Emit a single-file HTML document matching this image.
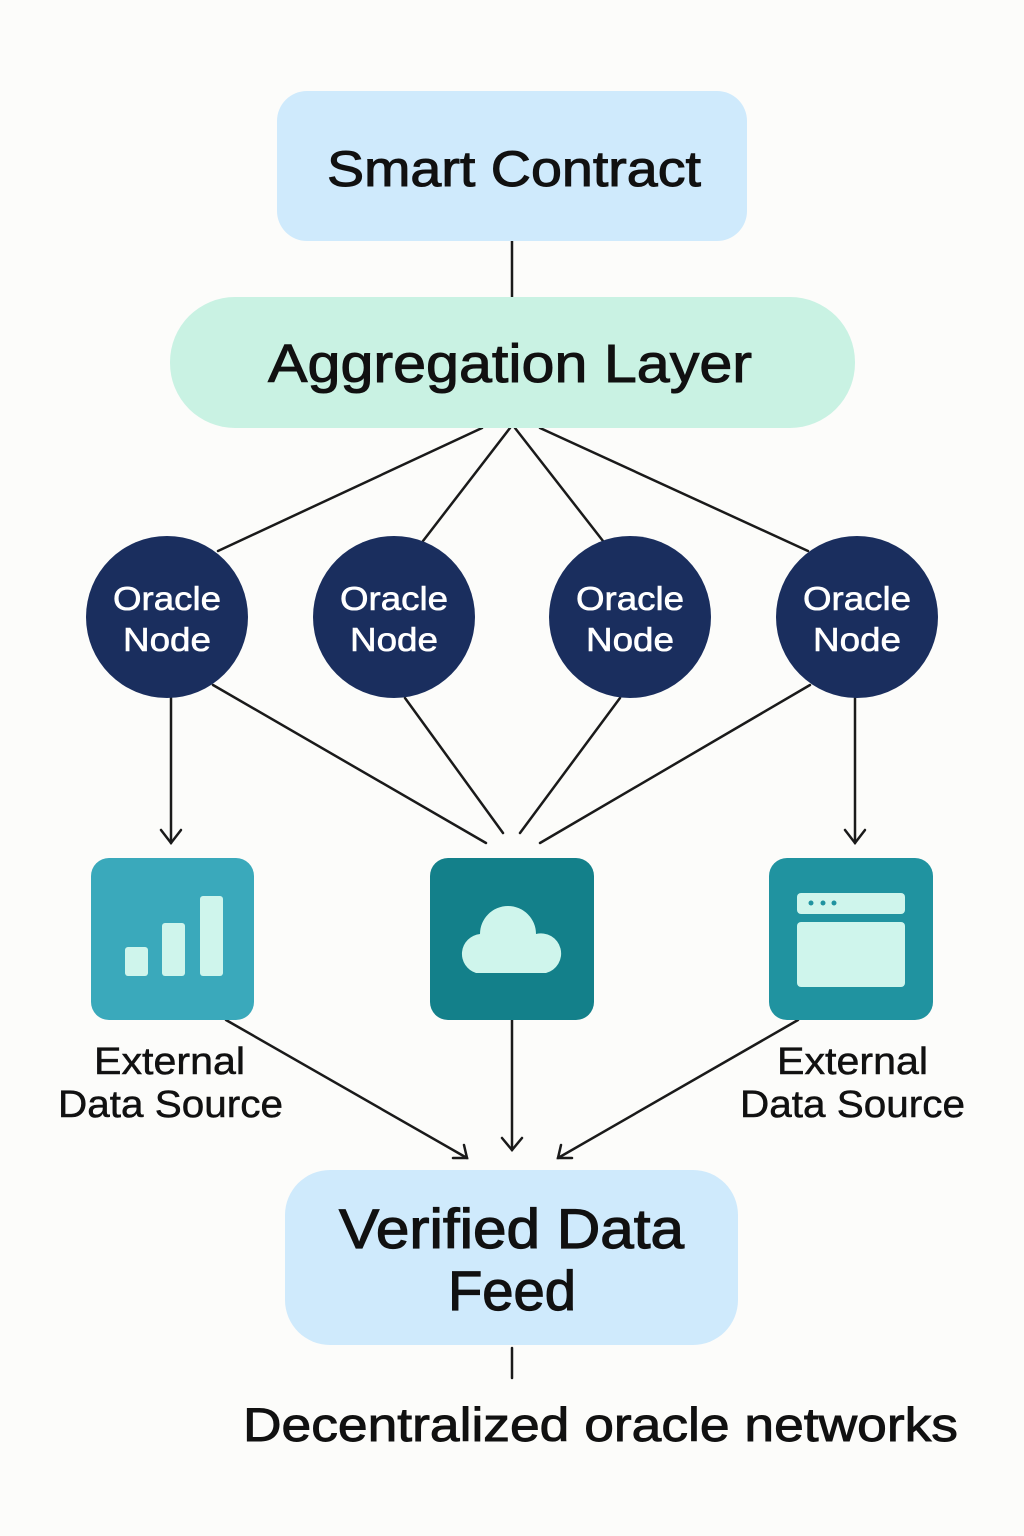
<!DOCTYPE html>
<html><head><meta charset="utf-8"><style>
html,body{margin:0;padding:0;background:#fcfcfa;}
svg{display:block;}
text{font-family:"Liberation Sans","DejaVu Sans",sans-serif;}
</style></head><body>
<svg width="1024" height="1536" viewBox="0 0 1024 1536" xmlns="http://www.w3.org/2000/svg">
<rect width="1024" height="1536" fill="#fcfcfa"/>
<g stroke="#1a1a1a" stroke-width="2.5" fill="none" stroke-linecap="round">
<line x1="512" y1="241" x2="512" y2="297"/>
<line x1="482" y1="428" x2="218" y2="551"/>
<line x1="510" y1="428" x2="423" y2="541"/>
<line x1="515" y1="428" x2="603" y2="541"/>
<line x1="540" y1="428" x2="808" y2="551"/>
<line x1="171" y1="698" x2="171" y2="843"/>
<polyline points="161,830 171,843 181,830"/>
<line x1="855" y1="698" x2="855" y2="843"/>
<polyline points="845,830 855,843 865,830"/>
<line x1="213" y1="685" x2="486" y2="843"/>
<line x1="405" y1="698" x2="503" y2="833"/>
<line x1="620" y1="698" x2="520" y2="833"/>
<line x1="810" y1="685" x2="540" y2="843"/>
<line x1="226" y1="1020" x2="467" y2="1158"/>
<polyline points="453,1158 467,1158 464,1145"/>
<line x1="512" y1="1020" x2="512" y2="1150"/>
<polyline points="502,1138 512,1150 522,1138"/>
<line x1="798" y1="1020" x2="558" y2="1158"/>
<polyline points="561,1145 558,1158 572,1158"/>
<line x1="512" y1="1348" x2="512" y2="1378"/>
</g>
<rect x="277" y="91" width="470" height="150" rx="30" fill="#cfeafc"/>
<text x="327" y="186" font-size="50" textLength="374" lengthAdjust="spacingAndGlyphs" fill="#111" stroke="#111" stroke-width="1">Smart Contract</text>
<rect x="170" y="297" width="685" height="131" rx="65" fill="#c9f2e3"/>
<text x="268" y="382" font-size="54" textLength="484" lengthAdjust="spacingAndGlyphs" fill="#111" stroke="#111" stroke-width="1">Aggregation Layer</text>
<g fill="#1a2e5e">
<circle cx="167" cy="617" r="81"/><circle cx="394" cy="617" r="81"/>
<circle cx="630" cy="617" r="81"/><circle cx="857" cy="617" r="81"/>
</g>
<g font-size="33" fill="#fff" stroke="#fff" stroke-width="0.6">
<text x="113" y="610" textLength="108" lengthAdjust="spacingAndGlyphs">Oracle</text><text x="123" y="651" textLength="88" lengthAdjust="spacingAndGlyphs">Node</text>
<text x="340" y="610" textLength="108" lengthAdjust="spacingAndGlyphs">Oracle</text><text x="350" y="651" textLength="88" lengthAdjust="spacingAndGlyphs">Node</text>
<text x="576" y="610" textLength="108" lengthAdjust="spacingAndGlyphs">Oracle</text><text x="586" y="651" textLength="88" lengthAdjust="spacingAndGlyphs">Node</text>
<text x="803" y="610" textLength="108" lengthAdjust="spacingAndGlyphs">Oracle</text><text x="813" y="651" textLength="88" lengthAdjust="spacingAndGlyphs">Node</text>
</g>
<rect x="91" y="858" width="163" height="162" rx="18" fill="#3aa9bb"/>
<g fill="#cff5ec">
<rect x="125" y="947" width="23" height="29" rx="3"/>
<rect x="162" y="923" width="23" height="53" rx="3"/>
<rect x="200" y="896" width="23" height="80" rx="3"/>
</g>
<rect x="430" y="858" width="164" height="162" rx="18" fill="#13808a"/>
<path d="M476,973 A20,20 0 0 1 480,934 A28,28 0 0 1 536,934 A20,20 0 0 1 546,973 Z" fill="#cff5ec"/>
<rect x="769" y="858" width="164" height="162" rx="18" fill="#2093a0"/>
<rect x="797" y="893" width="108" height="21" rx="4" fill="#cff5ec"/>
<rect x="797" y="922" width="108" height="65" rx="4" fill="#cff5ec"/>
<g fill="#2093a0"><circle cx="811" cy="903" r="2.5"/><circle cx="823" cy="903" r="2.5"/><circle cx="834" cy="903" r="2.5"/></g>
<g font-size="38" fill="#111" stroke="#111" stroke-width="0.5">
<text x="94" y="1074" textLength="151" lengthAdjust="spacingAndGlyphs">External</text><text x="58" y="1117" textLength="225" lengthAdjust="spacingAndGlyphs">Data Source</text>
<text x="777" y="1074" textLength="151" lengthAdjust="spacingAndGlyphs">External</text><text x="740" y="1117" textLength="225" lengthAdjust="spacingAndGlyphs">Data Source</text>
</g>
<rect x="285" y="1170" width="453" height="175" rx="45" fill="#cfeafc"/>
<g font-size="56" fill="#111" stroke="#111" stroke-width="1.2">
<text x="339" y="1248" textLength="345" lengthAdjust="spacingAndGlyphs">Verified Data</text><text x="448" y="1310" textLength="128" lengthAdjust="spacingAndGlyphs">Feed</text>
</g>
<text x="243" y="1441" font-size="47" textLength="715" lengthAdjust="spacingAndGlyphs" fill="#111" stroke="#111" stroke-width="0.9">Decentralized oracle networks</text>
</svg>
</body></html>
